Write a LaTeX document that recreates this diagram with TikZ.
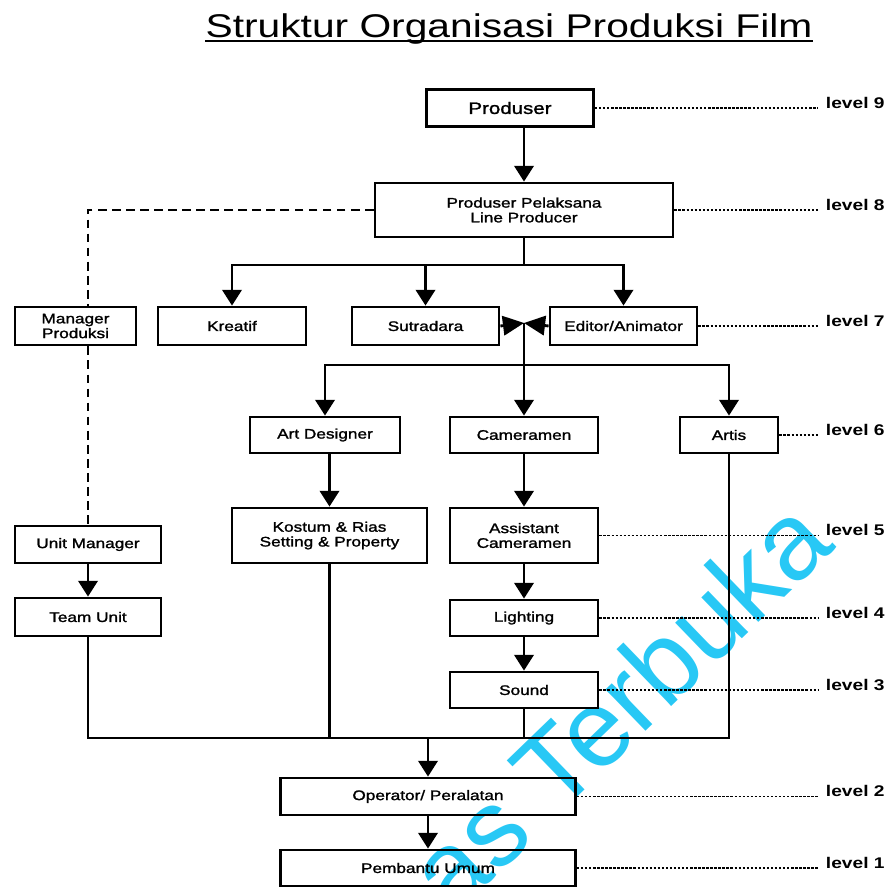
\documentclass[tikz,border=0pt]{standalone}
\usepackage{fontspec}
\setmainfont{Liberation Sans}[FakeStretch=1.24]
\newfontfamily\kotakfont{Liberation Sans}[FakeStretch=1.24, FakeBold=1.5]
\newfontfamily\wmfont{Liberation Sans}
\usetikzlibrary{arrows.meta}
\definecolor{wmcyan}{RGB}{40,200,245}

\begin{document}
\begin{tikzpicture}[x=0.02cm, y=-0.02cm, line join=miter,
		kotak/.style 2 args={draw, line width=1.6pt, minimum width=#1*0.02cm, minimum height=#2*0.02cm, inner sep=0pt, align=center, font=\kotakfont\fontsize{7.9}{8.4}\selectfont},
		garis/.style={line width=1.6pt},
		panah/.style={line width=1.6pt, -{Triangle[length=9pt,width=11pt]}},
		dasi/.style={line width=1.6pt, -{Triangle[length=12pt,width=11pt]}},
		putus/.style={line width=1.6pt, dash pattern=on 5pt off 3pt},
		titik/.style={line width=1.1pt, dash pattern=on 1.4pt off 0.9pt}]
	\useasboundingbox (0,0) rectangle (887,887);
	% watermark, behind everything
	\begin{scope}
		\clip (0,0) rectangle (887,887);
		\node (wm) [anchor=base east, rotate=44, text=wmcyan, inner sep=0pt, font=\wmfont\fontsize{62}{64}\selectfont] at (837,547) {as Terbuka};
	\end{scope}
	\node (judul) [anchor=base, inner sep=0pt, font=\fontsize{18.7}{22}\selectfont] at (509,37) {Struktur Organisasi Produksi Film};
	\draw[line width=1.1pt] ([yshift=-2.5pt]judul.base west) -- ([yshift=-2.5pt]judul.base east);
	% boxes
	\node (produser)  [kotak={167}{37}, font=\kotakfont\fontsize{9.4}{11}\selectfont] at (510,108) {Produser};
	\node (pelaksana) [kotak={298}{54}] at (524,210) {Produser Pelaksana\\Line Producer};
	\node (manager)   [kotak={121}{38}] at (75.5,326) {Manager\\Produksi};
	\node (kreatif)   [kotak={148}{38}] at (232,326) {Kreatif};
	\node (sutradara) [kotak={147}{38}] at (425.5,326) {Sutradara};
	\node (editor)    [kotak={147}{38}] at (623.5,326) {Editor/Animator};
	\node (artdes)    [kotak={150}{36}] at (325,435) {Art Designer};
	\node (camera)    [kotak={148}{36}] at (524,435) {Cameramen};
	\node (artis)     [kotak={98}{36}] at (729,435) {Artis};
	\node (kostum)    [kotak={195}{55}] at (329.5,535.5) {Kostum \& Rias\\Setting \& Property};
	\node (asisten)   [kotak={148}{55}] at (524,535.5) {Assistant\\Cameramen};
	\node (unitman)   [kotak={146}{37}] at (88,544.5) {Unit Manager};
	\node (team)      [kotak={146}{38}] at (88,617) {Team Unit};
	\node (lighting)  [kotak={148}{36}] at (524,618) {Lighting};
	\node (sound)     [kotak={148}{36}] at (524,690) {Sound};
	\node (operator)  [kotak={295}{37}] at (428,796.5) {Operator/ Peralatan};
	\node (pembantu)  [kotak={295}{36}] at (428,868) {Pembantu Umum};
	% branch points
	\coordinate (cab1) at (524,265);
	\coordinate (temu) at (524,323);
	\coordinate (cab2) at (524,365);
	\coordinate (cab3) at (428,738);
	\coordinate (ujung) at (818,0);
	% connectors
	\draw[panah] (produser.south -| pelaksana.north) -- (pelaksana.north);
	\draw[garis] (pelaksana) -- (cab1);
	\draw[panah] (cab1) -| (kreatif);
	\draw[panah] (cab1) -| (sutradara);
	\draw[panah] (cab1) -| (editor);
	\draw[dasi] (sutradara.east) -- (temu);
	\draw[dasi] (editor.west) -- (temu);
	\draw[panah] (temu) -- (camera);
	\draw[panah] (cab2) -| (artdes);
	\draw[panah] (cab2) -| (artis);
	\draw[panah] (artdes.south -| kostum.north) -- (kostum.north);
	\draw[panah] (camera) -- (asisten);
	\draw[panah] (asisten) -- (lighting);
	\draw[panah] (lighting) -- (sound);
	\draw[putus] (pelaksana.west) -| (manager.north -| unitman.north);
	\draw[putus] (manager.south -| unitman.north) -- (unitman.north);
	\draw[panah] (unitman) -- (team);
	\draw[garis] (team) |- (cab3);
	\draw[garis] (kostum) |- (cab3);
	\draw[garis] (sound) |- (cab3);
	\draw[garis] (artis) |- (cab3);
	\draw[panah] (cab3) -- (operator);
	\draw[panah] (operator) -- (pembantu);
	% level lines
	\foreach \n/\b in {9/produser,8/pelaksana,7/editor,6/artis,5/asisten,4/lighting,3/sound,2/operator,1/pembantu}
		\draw[titik] (\b.east) -- (\b.east -| ujung) node (lv\n) [anchor=base west, xshift=4pt, inner sep=0pt, font=\bfseries\fontsize{8.8}{10}\selectfont] {level \n};
\end{tikzpicture}
\end{document}
